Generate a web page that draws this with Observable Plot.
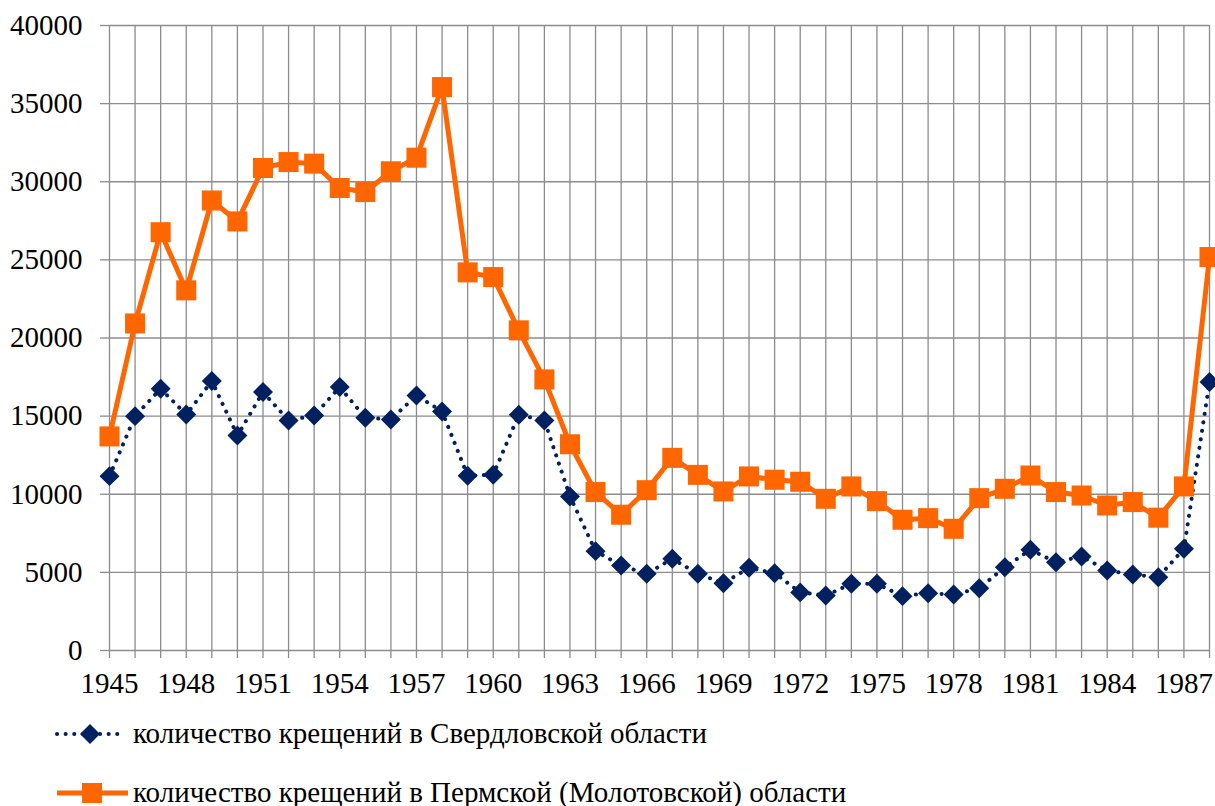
<!DOCTYPE html>
<html>
<head>
<meta charset="utf-8">
<script src="https://cdn.jsdelivr.net/npm/d3@7"></script>
<script src="https://cdn.jsdelivr.net/npm/@observablehq/plot@0.6"></script>
<style>
  html, body { margin: 0; padding: 0; background: #fff; }
  #chart svg { display: block; }
  .legend { font-family: "Liberation Serif", Tinos, "Times New Roman", "DejaVu Serif", serif; font-size: 29px; color: #000; }
  .legend .row { height: 59px; display: flex; align-items: center; }
  .legend svg { margin-left: 52px; margin-right: 4px; flex: none; }
</style>
</head>
<body>
<div id="chart"></div>
<div class="legend" id="legend"></div>
<script>
const years = [1945,1946,1947,1948,1949,1950,1951,1952,1953,1954,1955,1956,1957,1958,1959,1960,1961,1962,1963,1964,1965,1966,1967,1968,1969,1970,1971,1972,1973,1974,1975,1976,1977,1978,1979,1980,1981,1982,1983,1984,1985,1986,1987,1988];
const sverdlovsk = [11160,15000,16750,15100,17250,13760,16540,14720,15040,16860,14900,14790,16320,15300,11180,11250,15090,14720,9860,6360,5440,4910,5870,4910,4310,5290,4950,3720,3520,4270,4270,3480,3670,3580,3990,5330,6450,5650,6020,5120,4870,4690,6510,17180];
const perm = [13700,20930,26770,23050,28800,27460,30880,31260,31160,29600,29340,30670,31540,36060,24200,23900,20490,17350,13200,10140,8690,10260,12330,11240,10180,11140,10930,10800,9710,10500,9560,8370,8470,7790,9750,10350,11200,10140,9920,9280,9500,8500,10500,25180];
const yTicks = [0,5000,10000,15000,20000,25000,30000,35000,40000];
const xTickLabels = [1945,1948,1951,1954,1957,1960,1963,1966,1969,1972,1975,1978,1981,1984,1987];
const seriesNames = ["количество крещений в Свердловской области", "количество крещений в Пермской (Молотовской) области"];
const colors = ["#002060", "#ff6600"];

const rows = years.map((year, i) => ({year, sverdlovsk: sverdlovsk[i], perm: perm[i]}));
const grid = "#8c8c8c";
const serif = "'Liberation Serif', Tinos, 'Times New Roman', 'DejaVu Serif', serif";

const chart = Plot.plot({
  width: 1215,
  height: 704,
  marginLeft: 109,
  marginRight: 6,
  marginTop: 25,
  marginBottom: 54,
  style: {fontFamily: serif, fontSize: "29px", color: "#000", background: "#fff"},
  x: {domain: [1945, 1988], label: null},
  y: {domain: [0, 40000], label: null},
  marks: [
    Plot.gridX(years, {stroke: grid, strokeOpacity: 1, strokeWidth: 1.3}),
    Plot.gridY(yTicks, {stroke: grid, strokeOpacity: 1, strokeWidth: 1.3}),
    Plot.axisY(yTicks, {tickSize: 9, tickPadding: 18, stroke: grid, strokeWidth: 1.3, fill: "#000", fontSize: 29, label: null, tickFormat: d => String(d)}),
    Plot.axisX(years, {tickSize: 8, tickPadding: 14, stroke: grid, strokeWidth: 1.3, fill: "#000", fontSize: 29, label: null,
      tickFormat: d => xTickLabels.includes(d) ? String(d) : ""}),
    Plot.line(rows, {x: "year", y: "sverdlovsk", stroke: colors[0], strokeWidth: 4, strokeDasharray: "0.1 8.5", strokeLinecap: "round"}),
    Plot.dot(rows, {x: "year", y: "sverdlovsk", symbol: "diamond2", r: 9, fill: colors[0], stroke: "none"}),
    Plot.line(rows, {x: "year", y: "perm", stroke: colors[1], strokeWidth: 5, strokeLinejoin: "round"}),
    Plot.dot(rows, {x: "year", y: "perm", symbol: "square", r: 11.3, fill: colors[1], stroke: "none"})
  ]
});
document.getElementById("chart").appendChild(chart);

const legend = document.getElementById("legend");
const swatches = [
  `<svg width="77" height="26"><line x1="5" y1="13" x2="73" y2="13" stroke="${colors[0]}" stroke-width="4" stroke-dasharray="0.1 8.5" stroke-linecap="round"/><path d="M38,3L48,13L38,23L28,13Z" fill="${colors[0]}"/></svg>`,
  `<svg width="77" height="26"><line x1="5" y1="13" x2="76" y2="13" stroke="${colors[1]}" stroke-width="5"/><rect x="30" y="3" width="20" height="20" fill="${colors[1]}"/></svg>`
];
seriesNames.forEach((name, i) => {
  const row = document.createElement("div");
  row.className = "row";
  row.innerHTML = swatches[i] + `<span>${name}</span>`;
  legend.appendChild(row);
});
</script>
</body>
</html>
